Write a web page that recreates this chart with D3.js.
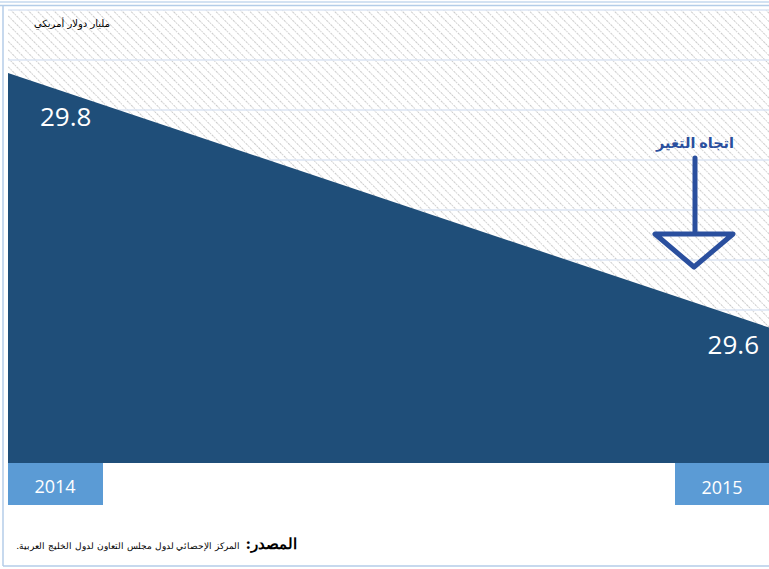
<!DOCTYPE html>
<html>
<head>
<meta charset="utf-8">
<script src="https://cdn.jsdelivr.net/npm/d3@7"></script>
<style>
body { margin: 0; background: #fff; }
svg { display: block; }
</style>
</head>
<body>
<svg id="chart" width="769" height="569"></svg>
<script>
// data
var years = ["2014", "2015"];
var values = [29.8, 29.6];
var valueLabels = ["29.8", "29.6"];
var unitLabel = "مليار دولار أمريكي";
var trendLabel = "اتجاه التغير";
var sourceBold = "المصدر:";
var sourceText = "المركز الإحصائي لدول مجلس التعاون لدول الخليج العربية.";

var svg = d3.select("#chart");
var plotLeft = 8, plotRight = 769, plotTop = 10, plotBottom = 463;

// hatch pattern
var defs = svg.append("defs");
var pat = defs.append("pattern")
    .attr("id", "hatch")
    .attr("patternUnits", "userSpaceOnUse")
    .attr("width", 6).attr("height", 6)
    .attr("patternTransform", "rotate(-45)");
pat.append("line")
    .attr("x1", 0).attr("y1", 0).attr("x2", 0).attr("y2", 6)
    .attr("stroke", "#cbcbcb").attr("stroke-width", 2)
    .attr("stroke-dasharray", "1.5,1");

// frame
svg.append("line").attr("x1", 0).attr("x2", 769).attr("y1", 2).attr("y2", 2)
    .attr("stroke", "#c5d9ee").attr("stroke-width", 1.5);
svg.append("line").attr("x1", 0).attr("x2", 769).attr("y1", 5.5).attr("y2", 5.5)
    .attr("stroke", "#b4cde8").attr("stroke-width", 1.5);
svg.append("line").attr("x1", 3).attr("x2", 3).attr("y1", 6).attr("y2", 566)
    .attr("stroke", "#b4cde8").attr("stroke-width", 1.5);
svg.append("line").attr("x1", 3).attr("x2", 769).attr("y1", 566).attr("y2", 566)
    .attr("stroke", "#b4cde8").attr("stroke-width", 1.5);

// scales
var x = d3.scalePoint().domain(years).range([plotLeft, plotRight]);
var y = d3.scaleLinear().domain([29.4935, 29.8496]).range([plotBottom, plotTop]);

svg.append("rect")
    .attr("x", plotLeft).attr("y", plotTop)
    .attr("width", plotRight - plotLeft).attr("height", plotBottom - plotTop)
    .attr("fill", "#fff");
svg.append("rect")
    .attr("x", plotLeft).attr("y", plotTop)
    .attr("width", plotRight - plotLeft).attr("height", plotBottom - plotTop)
    .attr("fill", "url(#hatch)");

// gridlines, every 50px
var gridPx = d3.range(plotTop, plotBottom, 50);
svg.append("g").selectAll("line")
    .data(gridPx)
    .enter()
    .append("line")
    .attr("x1", plotLeft).attr("x2", plotRight)
    .attr("y1", function(d) { return d; })
    .attr("y2", function(d) { return d; })
    .attr("stroke", "#dbe5f3").attr("stroke-width", 1.5);

// area
var data = years.map(function(d, i) { return {year: d, value: values[i]}; });
var area = d3.area()
    .x(function(d) { return x(d.year); })
    .y0(plotBottom)
    .y1(function(d) { return y(d.value); });
svg.append("path")
    .attr("d", area(data))
    .attr("fill", "#1f4e79");

// value labels
svg.append("text")
    .attr("x", x(years[0]) + 32).attr("y", y(values[0]) + 53)
    .attr("fill", "#fff").attr("font-family", "Open Sans, sans-serif")
    .attr("font-size", 26)
    .text(valueLabels[0]);
svg.append("text")
    .attr("x", x(years[1]) - 10).attr("y", y(values[1]) + 26)
    .attr("text-anchor", "end")
    .attr("fill", "#fff").attr("font-family", "Open Sans, sans-serif")
    .attr("font-size", 26)
    .text(valueLabels[1]);

// year boxes
svg.append("rect").attr("x", plotLeft).attr("y", plotBottom)
    .attr("width", 95).attr("height", 42).attr("fill", "#5b9bd5");
svg.append("text").attr("x", plotLeft + 47).attr("y", plotBottom + 30)
    .attr("text-anchor", "middle").attr("fill", "#fff")
    .attr("font-family", "Open Sans, sans-serif").attr("font-size", 18)
    .text(years[0]);
svg.append("rect").attr("x", plotRight - 94).attr("y", plotBottom)
    .attr("width", 94).attr("height", 42).attr("fill", "#5b9bd5");
svg.append("text").attr("x", plotRight - 47).attr("y", plotBottom + 31)
    .attr("text-anchor", "middle").attr("fill", "#fff")
    .attr("font-family", "Open Sans, sans-serif").attr("font-size", 18)
    .text(years[1]);

// unit label
svg.append("text")
    .attr("x", 110).attr("y", 27)
    .attr("text-anchor", "start").attr("direction", "rtl")
    .attr("font-family", "DejaVu Sans, sans-serif").attr("font-size", 10)
    .attr("fill", "#000")
    .text(unitLabel);

// trend arrow
var ac = "#2a4f9e";
svg.append("text")
    .attr("x", 695).attr("y", 148)
    .attr("text-anchor", "middle").attr("direction", "rtl")
    .attr("font-family", "Noto Sans, DejaVu Sans, sans-serif")
    .attr("font-weight", "bold").attr("font-size", 14.5)
    .attr("fill", ac)
    .text(trendLabel);
svg.append("line").attr("x1", 695).attr("x2", 695).attr("y1", 158).attr("y2", 232)
    .attr("stroke", ac).attr("stroke-width", 5).attr("stroke-linecap", "round");
svg.append("path")
    .attr("d", "M655,234 L733,234 L694,267 Z")
    .attr("fill", "none").attr("stroke", ac).attr("stroke-width", 5)
    .attr("stroke-linejoin", "round");

// source
var src = svg.append("text")
    .attr("x", 297).attr("y", 549)
    .attr("text-anchor", "start").attr("direction", "rtl")
    .attr("font-family", "DejaVu Serif, serif").attr("fill", "#000");
src.append("tspan").attr("font-weight", "bold").attr("font-size", 15).text(sourceBold + " ");
src.append("tspan").attr("font-size", 9).text(sourceText);
</script>
</body>
</html>
